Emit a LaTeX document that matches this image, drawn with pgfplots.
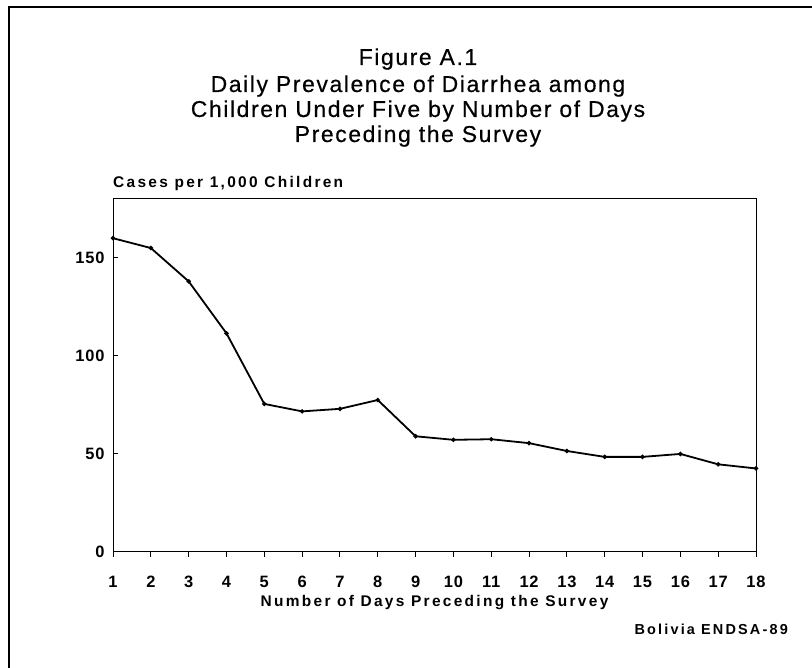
\documentclass[border=0pt]{standalone}
\usepackage{fontspec}
\setmainfont{Liberation Sans}
\newfontfamily\labfont[LetterSpace=15]{Liberation Sans}
\newfontfamily\tickfont[LetterSpace=5]{Liberation Sans}
\newfontfamily\titfont[LetterSpace=7,FakeBold=0.5]{Liberation Sans}
\usepackage{pgfplots}
\pgfplotsset{compat=1.18}
\begin{document}
\begin{tikzpicture}[x=1bp,y=1bp]
\useasboundingbox (0,0) rectangle (812,668);
% frame (left and top edges of the scanned page box)
\draw[line width=1.6bp] (9,0) -- (9,661) -- (812,661);
% titles
\newcommand{\tf}{\titfont\fontsize{23}{26}\selectfont}
\node[anchor=base] at (418,668-65) {\tf Figure A.1};
\node[anchor=base] at (418,668-92) {\tf Daily Prevalence of Diarrhea among};
\node[anchor=base] at (418,668-117) {\tf Children Under Five by Number of Days};
\node[anchor=base] at (418,668-142) {\tf Preceding the Survey};
\node[anchor=base west,inner sep=0pt] at (113,668-188) {\labfont\bfseries\fontsize{15.5}{18}\selectfont Cases per 1,000 Children};
\node[anchor=base east,inner sep=0pt] at (788,668-635) {\labfont\bfseries\fontsize{14.5}{16}\selectfont Bolivia ENDSA-89};
\begin{axis}[
  at={(113bp,116bp)}, anchor=south west,
  scale only axis, width=643bp, height=353bp,
  xmin=1, xmax=18, ymin=0, ymax=180,
  xtick={1,...,18}, ytick={0,50,100,150},
  xtick pos=bottom, ytick pos=left,
  axis line style={line width=1bp},
  tick style={black, line width=1bp},
  xtick align=outside, ytick align=inside,
  major tick length=5bp,
  /pgf/number format/assume math mode=true,
  ticklabel style={font=\tickfont\bfseries\fontsize{16.5}{18}\selectfont},
  xticklabel style={anchor=base, yshift=-31bp},
  yticklabel style={anchor=east, xshift=-5bp},
  xlabel={Number of Days Preceding the Survey},
  xlabel style={font=\labfont\bfseries\fontsize{15.5}{18}\selectfont, at={(axis description cs:0.5,0)}, anchor=base, yshift=-55bp},
]
\addplot[black, line width=1.8bp, mark=*, mark size=1.2bp] coordinates {
(1,160) (2,155) (3,138) (4,111.5) (5,75.5) (6,71.7) (7,73) (8,77.5) (9,59)
(10,57.2) (11,57.5) (12,55.5) (13,51.5) (14,48.5) (15,48.5) (16,50) (17,44.7) (18,42.6)
};
\end{axis}
\end{tikzpicture}
\end{document}
